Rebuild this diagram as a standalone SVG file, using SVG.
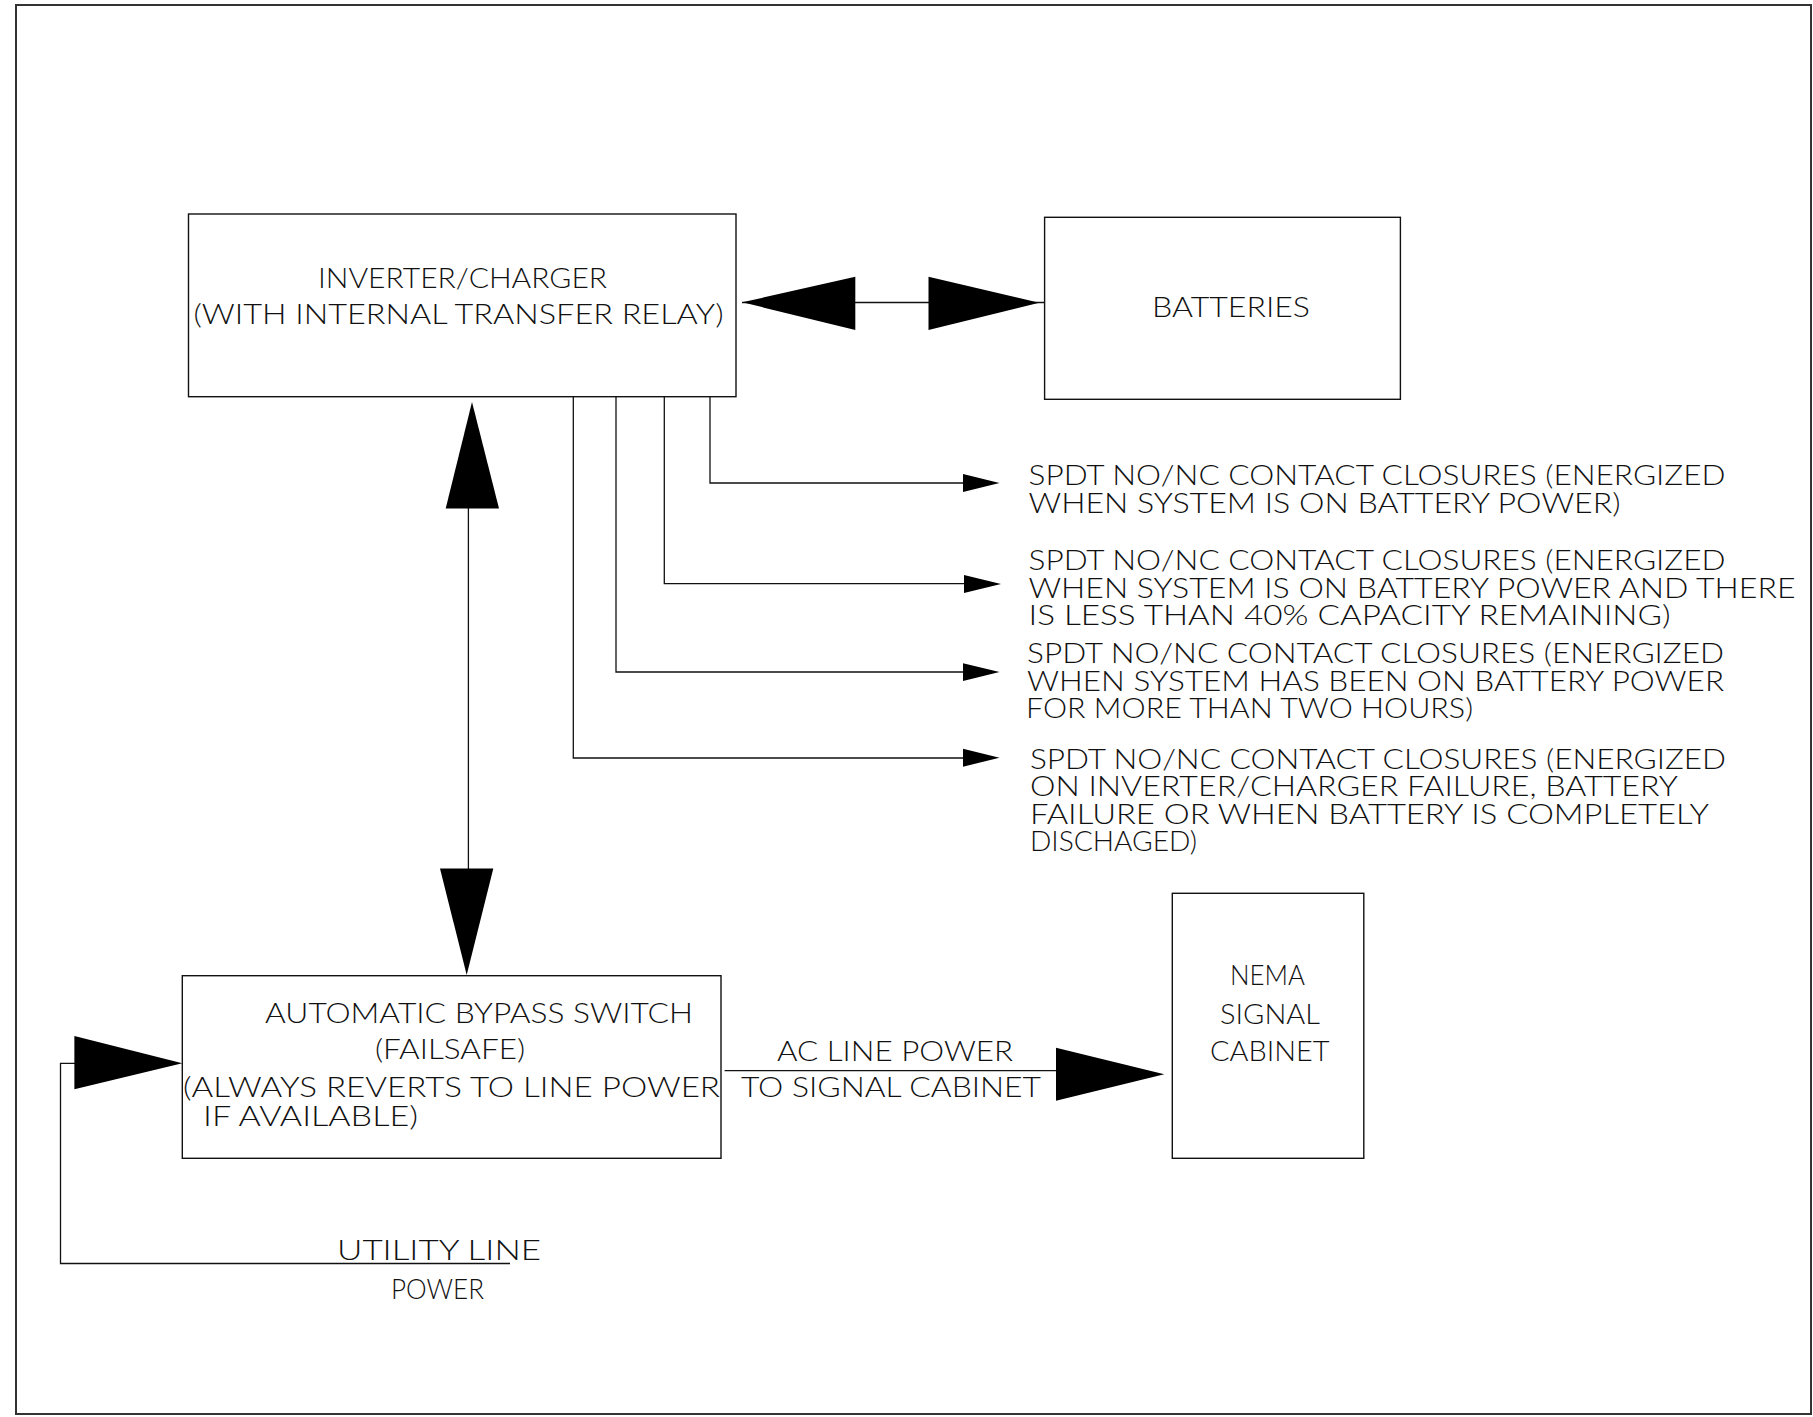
<svg xmlns="http://www.w3.org/2000/svg" width="1813" height="1417" viewBox="0 0 1813 1417">
<style>
.bg{fill:#fff}
.frame{fill:none;stroke:#333;stroke-width:2}
.box{fill:none;stroke:#111;stroke-width:1.4}
.ln{fill:none;stroke:#111;stroke-width:1.3}
.ah{fill:#000;stroke:none}
text{font-family:"Lato","Liberation Sans",sans-serif;font-weight:300;font-size:28px;fill:#111}
</style>
<rect class="bg" x="0" y="0" width="1813" height="1417"/>
<rect class="frame" x="16" y="5" width="1795" height="1409"/>

<g id="inverter">
<rect class="box" x="188.5" y="214" width="547.5" height="182.7"/>
<text x="318" y="288" textLength="289" lengthAdjust="spacingAndGlyphs">INVERTER/CHARGER</text>
<text x="193.5" y="324" textLength="530" lengthAdjust="spacingAndGlyphs">(WITH INTERNAL TRANSFER RELAY)</text>
</g>

<g id="batteries">
<rect class="box" x="1044.6" y="217.3" width="355.8" height="182"/>
<text x="1152" y="316.7" textLength="158" lengthAdjust="spacingAndGlyphs">BATTERIES</text>
</g>

<g id="spdt1">
<text x="1028.5" y="485" textLength="697" lengthAdjust="spacingAndGlyphs">SPDT NO/NC CONTACT CLOSURES (ENERGIZED</text>
<text x="1028.5" y="512.5" textLength="592" lengthAdjust="spacingAndGlyphs">WHEN SYSTEM IS ON BATTERY POWER)</text>
</g>

<g id="spdt2">
<text x="1028.5" y="570" textLength="697" lengthAdjust="spacingAndGlyphs">SPDT NO/NC CONTACT CLOSURES (ENERGIZED</text>
<text x="1028.5" y="597.5" textLength="767" lengthAdjust="spacingAndGlyphs">WHEN SYSTEM IS ON BATTERY POWER AND THERE</text>
<text x="1028.5" y="625" textLength="642" lengthAdjust="spacingAndGlyphs">IS LESS THAN 40% CAPACITY REMAINING)</text>
</g>

<g id="spdt3">
<text x="1027" y="663" textLength="697" lengthAdjust="spacingAndGlyphs">SPDT NO/NC CONTACT CLOSURES (ENERGIZED</text>
<text x="1027" y="690.5" textLength="697" lengthAdjust="spacingAndGlyphs">WHEN SYSTEM HAS BEEN ON BATTERY POWER</text>
<text x="1026" y="718" textLength="447" lengthAdjust="spacingAndGlyphs">FOR MORE THAN TWO HOURS)</text>
</g>

<g id="spdt4">
<text x="1030" y="768.5" textLength="696" lengthAdjust="spacingAndGlyphs">SPDT NO/NC CONTACT CLOSURES (ENERGIZED</text>
<text x="1030" y="796" textLength="648" lengthAdjust="spacingAndGlyphs">ON INVERTER/CHARGER FAILURE, BATTERY</text>
<text x="1030" y="823.5" textLength="679" lengthAdjust="spacingAndGlyphs">FAILURE OR WHEN BATTERY IS COMPLETELY</text>
<text x="1030" y="851" textLength="167" lengthAdjust="spacingAndGlyphs">DISCHAGED)</text>
</g>

<g id="bypass-switch">
<rect class="box" x="182.3" y="975.7" width="538.7" height="182.6"/>
<text x="265" y="1022.5" textLength="428" lengthAdjust="spacingAndGlyphs">AUTOMATIC BYPASS SWITCH</text>
<text x="375" y="1059" textLength="150" lengthAdjust="spacingAndGlyphs">(FAILSAFE)</text>
<text x="183" y="1097" textLength="537" lengthAdjust="spacingAndGlyphs">(ALWAYS REVERTS TO LINE POWER</text>
<text x="203" y="1126" textLength="215" lengthAdjust="spacingAndGlyphs">IF AVAILABLE)</text>
</g>

<g id="nema-cabinet">
<rect class="box" x="1172.3" y="893.3" width="191.5" height="265"/>
<text x="1230" y="985" textLength="75" lengthAdjust="spacingAndGlyphs">NEMA</text>
<text x="1220" y="1023.5" textLength="100" lengthAdjust="spacingAndGlyphs">SIGNAL</text>
<text x="1210" y="1061" textLength="119.5" lengthAdjust="spacingAndGlyphs">CABINET</text>
</g>

<g id="ac-line-label">
<text x="777" y="1061" textLength="236" lengthAdjust="spacingAndGlyphs">AC LINE POWER</text>
<text x="741" y="1097" textLength="300" lengthAdjust="spacingAndGlyphs">TO SIGNAL CABINET</text>
</g>

<g id="utility-power">
<text x="337" y="1260" textLength="204" lengthAdjust="spacingAndGlyphs">UTILITY LINE</text>
<text x="391" y="1299" textLength="93" lengthAdjust="spacingAndGlyphs">POWER</text>
</g>

<g id="connectors">
<!-- inverter <-> batteries -->
<line class="ln" x1="742" y1="302.5" x2="1044.6" y2="302.5"/>
<polygon class="ah" points="742.3,302.3 855.3,276.7 855.3,330"/>
<polygon class="ah" points="1039.2,302.7 928.5,276.7 928.5,330"/>
<!-- inverter <-> bypass switch -->
<line class="ln" x1="468.4" y1="508" x2="468.4" y2="869"/>
<polygon class="ah" points="472,402 445.7,508.6 499,508.6"/>
<polygon class="ah" points="466.7,975 440,868.5 493.3,868.5"/>
<!-- contact closure outputs -->
<path class="ln" d="M710 396.7 V483 H964"/>
<polygon class="ah" points="999.5,483 963,474 963,492"/>
<path class="ln" d="M664.3 396.7 V583.7 H965"/>
<polygon class="ah" points="1001,584 964,575 964,593"/>
<path class="ln" d="M616 396.7 V672 H964"/>
<polygon class="ah" points="999.5,672 963,663.3 963,681"/>
<path class="ln" d="M573.3 396.7 V758 H964"/>
<polygon class="ah" points="999.5,757.7 963,748.7 963,766.7"/>
<!-- utility line power -> bypass switch -->
<path class="ln" d="M510 1263.5 H60.5 V1063.3 H75"/>
<polygon class="ah" points="182.3,1063.3 74.4,1036 74.4,1089.3"/>
<!-- bypass switch -> NEMA cabinet -->
<line class="ln" x1="724.6" y1="1070.7" x2="1057" y2="1070.7"/>
<polygon class="ah" points="1164.3,1074.3 1056,1047.7 1056,1100.7"/>
</g>
</svg>
